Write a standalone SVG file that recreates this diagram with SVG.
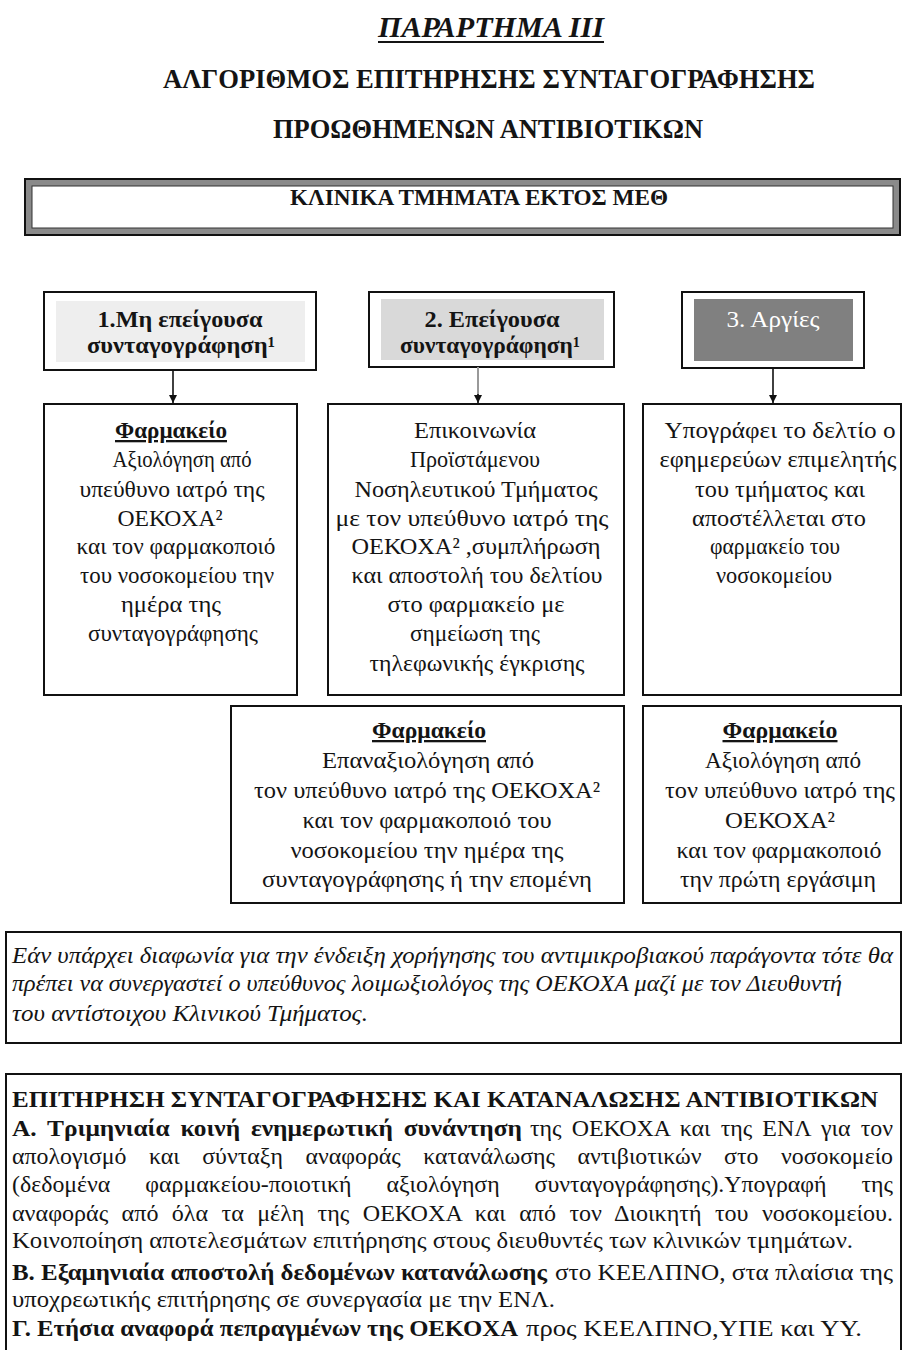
<svg xmlns="http://www.w3.org/2000/svg" width="903" height="1350" viewBox="0 0 903 1350">
<style>
text{font-family:"Liberation Serif","DejaVu Serif","Times New Roman",serif;fill:#141414}
.t{font-size:23px}
.c{text-anchor:middle}
.b{font-weight:bold}
.i{font-style:italic}
.u{text-decoration:underline}
.box{fill:#fff;stroke:#111;stroke-width:2}
.con{stroke:#111;stroke-width:1.6;fill:none}
</style>
<defs>
<marker id="ah" viewBox="0 0 10 10" refX="10" refY="5" markerWidth="8" markerHeight="8" markerUnits="userSpaceOnUse" orient="auto">
<path d="M0,0 L10,5 L0,10 z" fill="#111"/>
</marker>
</defs>
<rect width="903" height="1350" fill="#fff"/>

<g id="title">
<text class="b i c" x="491" y="37" font-size="30" textLength="226" lengthAdjust="spacingAndGlyphs">ΠΑΡΑΡΤΗΜΑ ΙΙΙ</text>
<line x1="378" y1="42" x2="604" y2="42" stroke="#141414" stroke-width="2"/>
<text class="b c" x="489" y="88" font-size="28" textLength="652" lengthAdjust="spacingAndGlyphs">ΑΛΓΟΡΙΘΜΟΣ ΕΠΙΤΗΡΗΣΗΣ ΣΥΝΤΑΓΟΓΡΑΦΗΣΗΣ</text>
<text class="b c" x="488" y="138" font-size="28" textLength="430" lengthAdjust="spacingAndGlyphs">ΠΡΟΩΘΗΜΕΝΩΝ ΑΝΤΙΒΙΟΤΙΚΩΝ</text>
</g>

<g id="clinics">
<rect x="25" y="179" width="875" height="56" fill="#8a8a8a" stroke="#111" stroke-width="2"/>
<rect x="32" y="186" width="861" height="42" fill="#fff" stroke="#333" stroke-width="1"/>
<text class="b c" x="479" y="205" font-size="24" textLength="378" lengthAdjust="spacingAndGlyphs">ΚΛΙΝΙΚΑ  ΤΜΗΜΑΤΑ ΕΚΤΟΣ  ΜΕΘ</text>
</g>

<g id="n1">
<rect class="box" x="44" y="292" width="272" height="78"/>
<rect x="56" y="301" width="249" height="61" fill="#eeeeee"/>
<text class="t b c" x="180" y="327" textLength="165" lengthAdjust="spacingAndGlyphs">1.Μη επείγουσα</text>
<text class="t b c" x="181" y="353" textLength="188" lengthAdjust="spacingAndGlyphs">συνταγογράφηση¹</text>
</g>

<g id="n2">
<rect class="box" x="369" y="292" width="245" height="75"/>
<rect x="381" y="299" width="223" height="61" fill="#d9d9d9"/>
<text class="t b c" x="492" y="327" textLength="135" lengthAdjust="spacingAndGlyphs">2. Επείγουσα</text>
<text class="t b c" x="490" y="353" textLength="180" lengthAdjust="spacingAndGlyphs">συνταγογράφηση¹</text>
</g>

<g id="n3">
<rect class="box" x="682" y="292" width="182" height="76"/>
<rect x="694" y="299" width="159" height="62" fill="#808080"/>
<text class="t c" x="773" y="327" style="fill:#fff" textLength="93" lengthAdjust="spacingAndGlyphs">3. Αργίες</text>
</g>

<g id="connectors">
<line class="con" x1="173" y1="370" x2="173" y2="403" marker-end="url(#ah)"/>
<line x1="478" y1="367" x2="478" y2="396" stroke="#999" stroke-width="2"/>
<line class="con" x1="478" y1="394" x2="478" y2="403" marker-end="url(#ah)"/>
<line class="con" x1="773" y1="368" x2="773" y2="403" marker-end="url(#ah)"/>
</g>

<g id="nA">
<rect class="box" x="44" y="404" width="253" height="291"/>
<text class="t b c u" x="171" y="438" textLength="112" lengthAdjust="spacingAndGlyphs">Φαρμακείο</text>
<text class="t c" x="182" y="467" textLength="139" lengthAdjust="spacingAndGlyphs">Αξιολόγηση από</text>
<text class="t c" x="172" y="497" textLength="185" lengthAdjust="spacingAndGlyphs">υπεύθυνο ιατρό της</text>
<text class="t c" x="170" y="526" textLength="105" lengthAdjust="spacingAndGlyphs">ΟΕΚΟΧΑ²</text>
<text class="t c" x="176" y="554" textLength="199" lengthAdjust="spacingAndGlyphs">και  τον φαρμακοποιό</text>
<text class="t c" x="177" y="583" textLength="194" lengthAdjust="spacingAndGlyphs">του νοσοκομείου την</text>
<text class="t c" x="171" y="612" textLength="100" lengthAdjust="spacingAndGlyphs">ημέρα της</text>
<text class="t c" x="173" y="641" textLength="170" lengthAdjust="spacingAndGlyphs">συνταγογράφησης</text>
</g>

<g id="nB">
<rect class="box" x="328" y="404" width="296" height="291"/>
<text class="t c" x="475" y="438" textLength="122" lengthAdjust="spacingAndGlyphs">Επικοινωνία</text>
<text class="t c" x="475" y="467" textLength="130" lengthAdjust="spacingAndGlyphs">Προϊστάμενου</text>
<text class="t c" x="476" y="497" textLength="243" lengthAdjust="spacingAndGlyphs">Νοσηλευτικού Τμήματος</text>
<text class="t c" x="472" y="526" textLength="273" lengthAdjust="spacingAndGlyphs">με τον  υπεύθυνο ιατρό της</text>
<text class="t c" x="476" y="554" textLength="249" lengthAdjust="spacingAndGlyphs">ΟΕΚΟΧΑ² ,συμπλήρωση</text>
<text class="t c" x="477" y="583" textLength="251" lengthAdjust="spacingAndGlyphs">και αποστολή του δελτίου</text>
<text class="t c" x="476" y="612" textLength="177" lengthAdjust="spacingAndGlyphs">στο φαρμακείο με</text>
<text class="t c" x="475" y="641" textLength="130" lengthAdjust="spacingAndGlyphs">σημείωση της</text>
<text class="t c" x="477" y="671" textLength="215" lengthAdjust="spacingAndGlyphs">τηλεφωνικής έγκρισης</text>
</g>

<g id="nC">
<rect class="box" x="643" y="404" width="258" height="291"/>
<text class="t c" x="780" y="438" textLength="231" lengthAdjust="spacingAndGlyphs">Υπογράφει  το δελτίο ο</text>
<text class="t c" x="778" y="467" textLength="237" lengthAdjust="spacingAndGlyphs">εφημερεύων επιμελητής</text>
<text class="t c" x="780" y="497" textLength="170" lengthAdjust="spacingAndGlyphs">του τμήματος και</text>
<text class="t c" x="779" y="526" textLength="174" lengthAdjust="spacingAndGlyphs">αποστέλλεται στο</text>
<text class="t c" x="775" y="554" textLength="130" lengthAdjust="spacingAndGlyphs">φαρμακείο του</text>
<text class="t c" x="774" y="583" textLength="116" lengthAdjust="spacingAndGlyphs">νοσοκομείου</text>
</g>

<g id="nD">
<rect class="box" x="231" y="706" width="393" height="197"/>
<text class="t b c u" x="429" y="738" textLength="114" lengthAdjust="spacingAndGlyphs">Φαρμακείο</text>
<text class="t c" x="428" y="768" textLength="212" lengthAdjust="spacingAndGlyphs">Επαναξιολόγηση από</text>
<text class="t c" x="427" y="798" textLength="346" lengthAdjust="spacingAndGlyphs">τον υπεύθυνο ιατρό της ΟΕΚΟΧΑ²</text>
<text class="t c" x="427" y="828" textLength="249" lengthAdjust="spacingAndGlyphs">και τον φαρμακοποιό του</text>
<text class="t c" x="427" y="858" textLength="273" lengthAdjust="spacingAndGlyphs">νοσοκομείου την ημέρα της</text>
<text class="t c" x="427" y="887" textLength="330" lengthAdjust="spacingAndGlyphs">συνταγογράφησης  ή την επομένη</text>
</g>

<g id="nE">
<rect class="box" x="643" y="706" width="258" height="197"/>
<text class="t b c u" x="780" y="738" textLength="115" lengthAdjust="spacingAndGlyphs">Φαρμακείο</text>
<text class="t c" x="783" y="768" textLength="156" lengthAdjust="spacingAndGlyphs">Αξιολόγηση από</text>
<text class="t c" x="780" y="798" textLength="230" lengthAdjust="spacingAndGlyphs">τον υπεύθυνο ιατρό της</text>
<text class="t c" x="780" y="828" textLength="110" lengthAdjust="spacingAndGlyphs">ΟΕΚΟΧΑ²</text>
<text class="t c" x="779" y="858" textLength="205" lengthAdjust="spacingAndGlyphs">και τον φαρμακοποιό</text>
<text class="t c" x="778" y="887" textLength="196" lengthAdjust="spacingAndGlyphs">την πρώτη εργάσιμη</text>
</g>

<g id="note">
<rect class="box" x="6" y="932" width="895" height="111"/>
<text class="t i" x="12" y="963" textLength="881" lengthAdjust="spacingAndGlyphs">Εάν υπάρχει διαφωνία για την ένδειξη χορήγησης του αντιμικροβιακού παράγοντα  τότε θα</text>
<text class="t i" x="12" y="991" textLength="830" lengthAdjust="spacingAndGlyphs">πρέπει να συνεργαστεί ο υπεύθυνος λοιμωξιολόγος της ΟΕΚΟΧΑ  μαζί με τον Διευθυντή</text>
<text class="t i" x="12" y="1021" textLength="356" lengthAdjust="spacingAndGlyphs">του αντίστοιχου Κλινικού Τμήματος.</text>
</g>

<g id="surveillance">
<rect class="box" x="6" y="1074" width="895" height="280"/>
<text class="t b" x="12" y="1107" textLength="866" lengthAdjust="spacingAndGlyphs">ΕΠΙΤΗΡΗΣΗ ΣΥΝΤΑΓΟΓΡΑΦΗΣΗΣ ΚΑΙ ΚΑΤΑΝΑΛΩΣΗΣ ΑΝΤΙΒΙΟΤΙΚΩΝ</text>
<text class="t b" x="12" y="1136" textLength="510" lengthAdjust="spacingAndGlyphs" word-spacing="4">Α. Τριμηνιαία κοινή ενημερωτική συνάντηση</text>
<text class="t" x="530" y="1136" textLength="363" lengthAdjust="spacingAndGlyphs" word-spacing="4">της ΟΕΚΟΧΑ και της ΕΝΛ για τον</text>
<text class="t" x="12" y="1164" textLength="881" lengthAdjust="spacingAndGlyphs" word-spacing="16">απολογισμό και σύνταξη αναφοράς κατανάλωσης αντιβιοτικών στο νοσοκομείο</text>
<text class="t" x="12" y="1192" textLength="881" lengthAdjust="spacingAndGlyphs" word-spacing="28">(δεδομένα φαρμακείου-ποιοτική αξιολόγηση συνταγογράφησης).Υπογραφή της</text>
<text class="t" x="12" y="1221" textLength="881" lengthAdjust="spacingAndGlyphs" word-spacing="7">αναφοράς από όλα τα μέλη της ΟΕΚΟΧΑ και από τον Διοικητή του νοσοκομείου.</text>
<text class="t" x="12" y="1248" textLength="841" lengthAdjust="spacingAndGlyphs">Κοινοποίηση αποτελεσμάτων επιτήρησης στους διευθυντές των κλινικών τμημάτων.</text>
<text class="t b" x="12" y="1280" textLength="535" lengthAdjust="spacingAndGlyphs">Β. Εξαμηνιαία αποστολή δεδομένων κατανάλωσης</text>
<text class="t" x="555" y="1280" textLength="338" lengthAdjust="spacingAndGlyphs">στο ΚΕΕΛΠΝΟ, στα πλαίσια της</text>
<text class="t" x="12" y="1307" textLength="543" lengthAdjust="spacingAndGlyphs">υποχρεωτικής επιτήρησης σε συνεργασία με την ΕΝΛ.</text>
<text class="t b" x="12" y="1336" textLength="506" lengthAdjust="spacingAndGlyphs">Γ. Ετήσια αναφορά πεπραγμένων της ΟΕΚΟΧΑ</text>
<text class="t" x="526" y="1336" textLength="336" lengthAdjust="spacingAndGlyphs">προς ΚΕΕΛΠΝΟ,ΥΠΕ και ΥΥ.</text>
</g>
</svg>
